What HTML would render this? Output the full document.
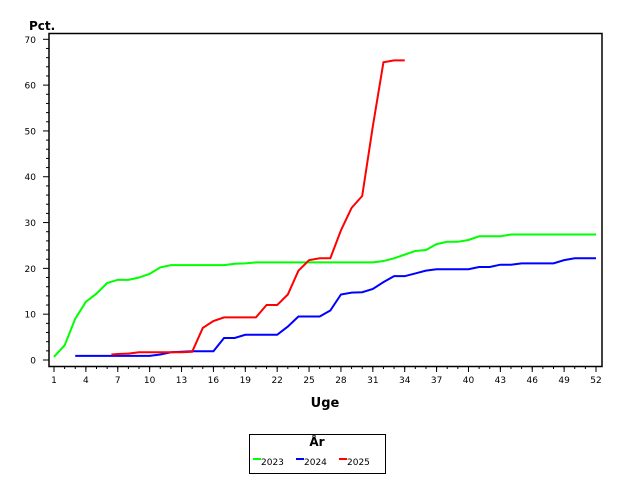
<!DOCTYPE html>
<html><head><meta charset="utf-8"><style>
body{margin:0;background:#fff;font-family:"DejaVu Sans","Liberation Sans",sans-serif}
svg text{font-family:"DejaVu Sans","Liberation Sans",sans-serif}
</style></head><body>
<svg id="c" width="640" height="480" xmlns="http://www.w3.org/2000/svg">
<rect x="0" y="0" width="640" height="480" fill="#fff"/>
<rect x="49" y="33.5" width="553" height="333" fill="none" stroke="#000" stroke-width="1.5"/>
<text x="29" y="30" font-size="12" font-weight="bold">Pct.</text>
<text x="325" y="407" font-size="13" font-weight="bold" text-anchor="middle">Uge</text>
<g id="ax"></g><g id="series"></g>
<g>
<rect x="249.5" y="434.5" width="136" height="39" fill="none" stroke="#000"/>
<text x="317" y="446" font-size="12" font-weight="bold" text-anchor="middle">År</text>
<g><line x1="253" y1="459" x2="261" y2="459" stroke="#00ff00" stroke-width="2"/><text x="261" y="465" font-size="9">2023</text></g>
<g><line x1="296" y1="459" x2="304" y2="459" stroke="#0000ff" stroke-width="2"/><text x="304" y="465" font-size="9">2024</text></g>
<g><line x1="339" y1="459" x2="347" y2="459" stroke="#ff0000" stroke-width="2"/><text x="347" y="465" font-size="9">2025</text></g>
</g>
</svg>
<script>
const yTicks=[0,10,20,30,40,50,60,70];
const xTickLabels=[1,4,7,10,13,16,19,22,25,28,31,34,37,40,43,46,49,52];
const weeks2023=[1,2,3,4,5,6,7,8,9,10,11,12,13,14,15,16,17,18,19,20,21,22,23,24,25,26,27,28,29,30,31,32,33,34,35,36,37,38,39,40,41,42,43,44,45,46,47,48,49,50,51,52];
const values2023=[0.7,3.2,9,12.7,14.5,16.8,17.5,17.5,18,18.8,20.2,20.7,20.7,20.7,20.7,20.7,20.7,21,21.1,21.3,21.3,21.3,21.3,21.3,21.3,21.3,21.3,21.3,21.3,21.3,21.3,21.6,22.2,23,23.8,24,25.3,25.8,25.8,26.2,27,27,27,27.4,27.4,27.4,27.4,27.4,27.4,27.4,27.4,27.4];
const weeks2024=[3,4,5,6,7,8,9,10,11,12,13,14,15,16,17,18,19,20,21,22,23,24,25,26,27,28,29,30,31,32,33,34,35,36,37,38,39,40,41,42,43,44,45,46,47,48,49,50,51,52];
const values2024=[0.9,0.9,0.9,0.9,0.9,0.9,0.9,0.9,1.2,1.7,1.8,1.9,1.9,1.9,4.8,4.8,5.5,5.5,5.5,5.5,7.3,9.5,9.5,9.5,10.8,14.3,14.7,14.8,15.5,17,18.3,18.3,18.9,19.5,19.8,19.8,19.8,19.8,20.3,20.3,20.8,20.8,21.1,21.1,21.1,21.1,21.8,22.2,22.2,22.2];
const weeks2025=[6.4,7,8,9,10,11,12,13,14,15,16,17,18,19,20,21,22,23,24,25,26,27,28,29,30,31,32,33,34];
const values2025=[1.2,1.3,1.4,1.7,1.7,1.7,1.7,1.7,1.8,7,8.5,9.3,9.3,9.3,9.3,12,12,14.3,19.5,21.8,22.2,22.2,28.3,33.2,35.8,51,65,65.4,65.4];
const NS="http://www.w3.org/2000/svg";
const xs=w=>54+(w-1)*(542/51);
const ys=v=>360-v*(320.7/70);
const ax=document.getElementById('ax');
function mk(t,a,p){const e=document.createElementNS(NS,t);for(const k in a)e.setAttribute(k,a[k]);p.appendChild(e);return e;}
for(let v=0;v<=70;v+=2){const maj=v%10===0;const l=mk('line',{x1:49-(maj?6:3),x2:49,y1:ys(v),y2:ys(v),stroke:'#000'},ax);

}
yTicks.forEach(v=>{const t=mk('text',{x:36,y:ys(v)+3.5,'font-size':9,'text-anchor':'end'},ax);t.textContent=v;

});
for(let w=1;w<=52;w++){const l=mk('line',{x1:xs(w),x2:xs(w),y1:366.5,y2:369,stroke:'#000'},ax);

}
xTickLabels.forEach(w=>{mk('line',{x1:xs(w),x2:xs(w),y1:366.5,y2:372,stroke:'#000'},ax);const t=mk('text',{x:xs(w),y:383,'font-size':9,'text-anchor':'middle'},ax);t.textContent=w;

});
const sg=document.getElementById('series');
function line(ws,vs,c,n){const p=mk('polyline',{points:ws.map((w,i)=>xs(w)+','+ys(vs[i])).join(' '),fill:'none',stroke:c,'stroke-width':2},sg);

}
line(weeks2023,values2023,'#00ff00','line-2023');
line(weeks2024,values2024,'#0000ff','line-2024');
line(weeks2025,values2025,'#ff0000','line-2025');
</script>
</body></html>
